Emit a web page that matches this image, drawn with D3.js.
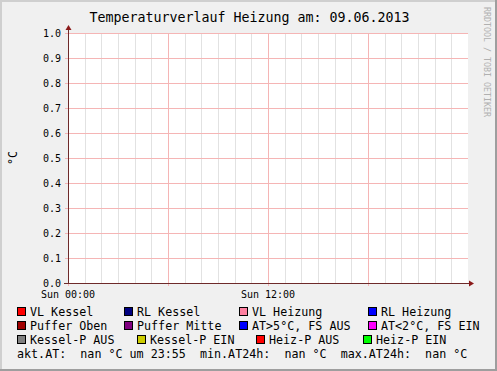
<!DOCTYPE html>
<html lang='de'>
<head>
  <meta charset='utf-8'>
  <title>Temperaturverlauf Heizung</title>
  <script src='https://d3js.org/d3.v7.min.js' charset='utf-8'></script>
  <style>
  body { margin: 0; }
  text { font-family: 'DejaVu Sans Mono', monospace; fill: #000; white-space: pre; }
  </style>
</head>
<body>
<script>
// chart values
var title = 'Temperaturverlauf Heizung am: 09.06.2013';
var yLabel = '\u00b0C';
var yTicks = [0, 0.1, 0.2, 0.3, 0.4, 0.5, 0.6, 0.7, 0.8, 0.9, 1.0];
var timeStart = new Date(2013, 5, 9, 0, 0);
var timeEnd = new Date(2013, 5, 10, 0, 0);
var xLabelHours = [0, 12];
var legendNames = ['VL Kessel', 'RL Kessel', 'VL Heizung', 'RL Heizung',
  'Puffer Oben', 'Puffer Mitte', 'AT>5\u00b0C, FS AUS', 'AT<2\u00b0C, FS EIN',
  'Kessel-P AUS', 'Kessel-P EIN', 'Heiz-P AUS', 'Heiz-P EIN'];
var legendColors = ['#ff0000', '#000080', '#ff80a0', '#0000ff',
  '#a00000', '#800080', '#0000ff', '#ff00ff',
  '#808080', '#cccc00', '#ff0000', '#00ff00'];
var statusLine = 'akt.AT:  nan \u00b0C um 23:55  min.AT24h:  nan \u00b0C  max.AT24h:  nan \u00b0C';

var width = 497, height = 371;
var plotLeft = 68, plotRight = 468, plotTop = 33, plotBottom = 283;

var svg = d3.select('body').append('svg')
  .attr('width', width)
  .attr('height', height);

// background with rrdtool style shade
svg.append('rect').attr('width', width).attr('height', height).attr('fill', '#f0f0f0');
svg.append('path').attr('d', 'M0,0H' + width + 'V2H2V' + height + 'H0Z').attr('fill', '#cfcfcf');
svg.append('path').attr('d', 'M' + width + ',0V' + height + 'H0V' + (height - 2) + 'H' + (width - 2) + 'V0Z').attr('fill', '#9e9e9e');

var x = d3.scaleTime().domain([timeStart, timeEnd]).range([plotLeft, plotRight]);
var y = d3.scaleLinear().domain([0, 1]).range([plotBottom, plotTop]);

svg.append('rect')
  .attr('x', plotLeft).attr('y', plotTop)
  .attr('width', plotRight - plotLeft).attr('height', plotBottom - plotTop)
  .attr('fill', '#ffffff');

// minor grid: every hour
var hours = d3.timeHour.range(timeStart, timeEnd);
svg.append('g').selectAll('line')
  .data(hours.filter(function(d) { return d.getHours() % 6 != 0; }))
  .enter().append('line')
  .attr('x1', function(d) { return Math.round(x(d)) + 0.5; })
  .attr('x2', function(d) { return Math.round(x(d)) + 0.5; })
  .attr('y1', plotTop).attr('y2', plotBottom)
  .attr('stroke', '#e2e2e2');

// major grid: every 6 hours and every 0.1
svg.append('g').selectAll('line')
  .data(hours.filter(function(d) { return d.getHours() % 6 == 0; }))
  .enter().append('line')
  .attr('x1', function(d) { return Math.round(x(d)) + 0.5; })
  .attr('x2', function(d) { return Math.round(x(d)) + 0.5; })
  .attr('y1', plotTop).attr('y2', plotBottom + 3)
  .attr('stroke', '#f5b5b5');

svg.append('g').selectAll('line')
  .data(yTicks)
  .enter().append('line')
  .attr('x1', plotLeft - 3).attr('x2', plotRight)
  .attr('y1', function(d) { return Math.round(y(d)) + 0.5; })
  .attr('y2', function(d) { return Math.round(y(d)) + 0.5; })
  .attr('stroke', '#f5b5b5');

// y tick labels
svg.append('g').selectAll('text')
  .data(yTicks)
  .enter().append('text')
  .attr('x', 61)
  .attr('y', function(d) { return y(d) + 4; })
  .attr('text-anchor', 'end')
  .attr('font-size', '10px')
  .text(d3.format('.1f'));

// x tick labels
svg.append('g').selectAll('text')
  .data(xLabelHours)
  .enter().append('text')
  .attr('x', function(d) { return x(d3.timeHour.offset(timeStart, d)); })
  .attr('y', 298)
  .attr('text-anchor', 'middle')
  .attr('font-size', '10px')
  .text(function(d) { return d3.timeFormat('Sun %H:%M')(d3.timeHour.offset(timeStart, d)); });

// axes with arrows
var axisColor = '#6e2a2a';
svg.append('line').attr('x1', plotLeft + 0.5).attr('x2', plotLeft + 0.5)
  .attr('y1', plotBottom + 1).attr('y2', plotTop - 4).attr('stroke', axisColor);
svg.append('line').attr('x1', plotLeft - 4).attr('x2', plotRight + 3)
  .attr('y1', plotBottom + 0.5).attr('y2', plotBottom + 0.5).attr('stroke', axisColor);
svg.append('path').attr('d', 'M' + (plotLeft - 2.5) + ',' + (plotTop - 3) + 'L' + (plotLeft + 0.5) + ',' + (plotTop - 8) + 'L' + (plotLeft + 3.5) + ',' + (plotTop - 3) + 'Z')
  .attr('fill', '#8b1a1a');
svg.append('path').attr('d', 'M' + (plotRight + 1) + ',' + (plotBottom - 2.5) + 'L' + (plotRight + 6) + ',' + (plotBottom + 0.5) + 'L' + (plotRight + 1) + ',' + (plotBottom + 3.5) + 'Z')
  .attr('fill', '#8b1a1a');

// title
svg.append('text')
  .attr('x', 249.5).attr('y', 22)
  .attr('text-anchor', 'middle')
  .attr('font-size', '13.3px')
  .text(title);

// y axis title
svg.append('text')
  .attr('transform', 'translate(17,158) rotate(-90)')
  .attr('text-anchor', 'middle')
  .attr('font-size', '11.7px')
  .text(yLabel);

// watermark
svg.append('text')
  .attr('transform', 'translate(484,7) rotate(90)')
  .attr('font-size', '8.3px')
  .style('fill', '#b0b0b0')
  .text('RRDTOOL / TOBI OETIKER');

// legend
var legendX = [17, 124, 239, 368, 17, 124, 239, 368, 17, 137, 256, 363];
var legend = svg.append('g').selectAll('g')
  .data(legendNames)
  .enter().append('g')
  .attr('transform', function(d, i) {
    return 'translate(' + legendX[i] + ',' + (307 + Math.floor(i / 4) * 14) + ')';
  });
legend.append('rect')
  .attr('x', 0.5).attr('y', 0.5)
  .attr('width', 8).attr('height', 8)
  .attr('fill', function(d, i) { return legendColors[i]; })
  .attr('stroke', '#000');
legend.append('text')
  .attr('x', 13).attr('y', 9)
  .attr('font-size', '11.7px')
  .text(function(d) { return d; });

// status line
svg.append('text')
  .attr('x', 17)
  .attr('y', 358)
  .attr('font-size', '11.7px')
  .text(statusLine);
</script>
</body>
</html>
